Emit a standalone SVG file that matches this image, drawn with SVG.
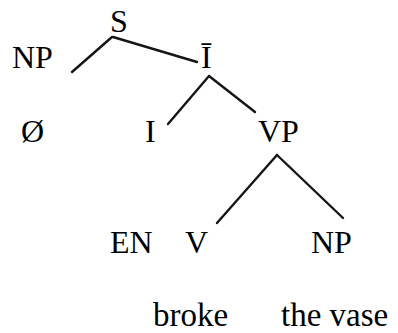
<svg xmlns="http://www.w3.org/2000/svg" width="398" height="333" viewBox="0 0 398 333">
<rect width="398" height="333" fill="#fff"/>
<g id="S"><text x="110" y="32" font-size="32" font-family="Liberation Serif">S</text></g>
<g id="NP1"><text x="12" y="68" font-size="32" font-family="Liberation Serif">NP</text></g>
<g id="Ibar"><text x="201" y="68" font-size="32" font-family="Liberation Serif">Ī</text></g>
<g id="empty"><text x="21" y="142" font-size="32" font-family="Liberation Serif">Ø</text></g>
<g id="I"><text x="145" y="142" font-size="32" font-family="Liberation Serif">I</text></g>
<g id="VP"><text x="258" y="142" font-size="32" font-family="Liberation Serif">VP</text></g>
<g id="EN"><text x="110" y="253" font-size="32" font-family="Liberation Serif">EN</text></g>
<g id="V"><text x="185" y="253" font-size="32" font-family="Liberation Serif">V</text></g>
<g id="NP2"><text x="311" y="253" font-size="32" font-family="Liberation Serif">NP</text></g>
<g id="broke"><text x="153" y="326" font-size="33" font-family="Liberation Serif">broke</text></g>
<g id="thevase"><text x="281" y="326" font-size="33" font-family="Liberation Serif">the vase</text></g>
<g id="connectors" stroke="#151515" stroke-width="2.4" stroke-linecap="round">
<line x1="112" y1="37" x2="72" y2="72"/>
<line x1="113" y1="37" x2="197" y2="62"/>
<line x1="209" y1="76" x2="168" y2="124"/>
<line x1="209" y1="76" x2="255" y2="112"/>
<line x1="277" y1="155" x2="217" y2="223"/>
<line x1="277" y1="155" x2="343" y2="218"/>
</g>
</svg>
